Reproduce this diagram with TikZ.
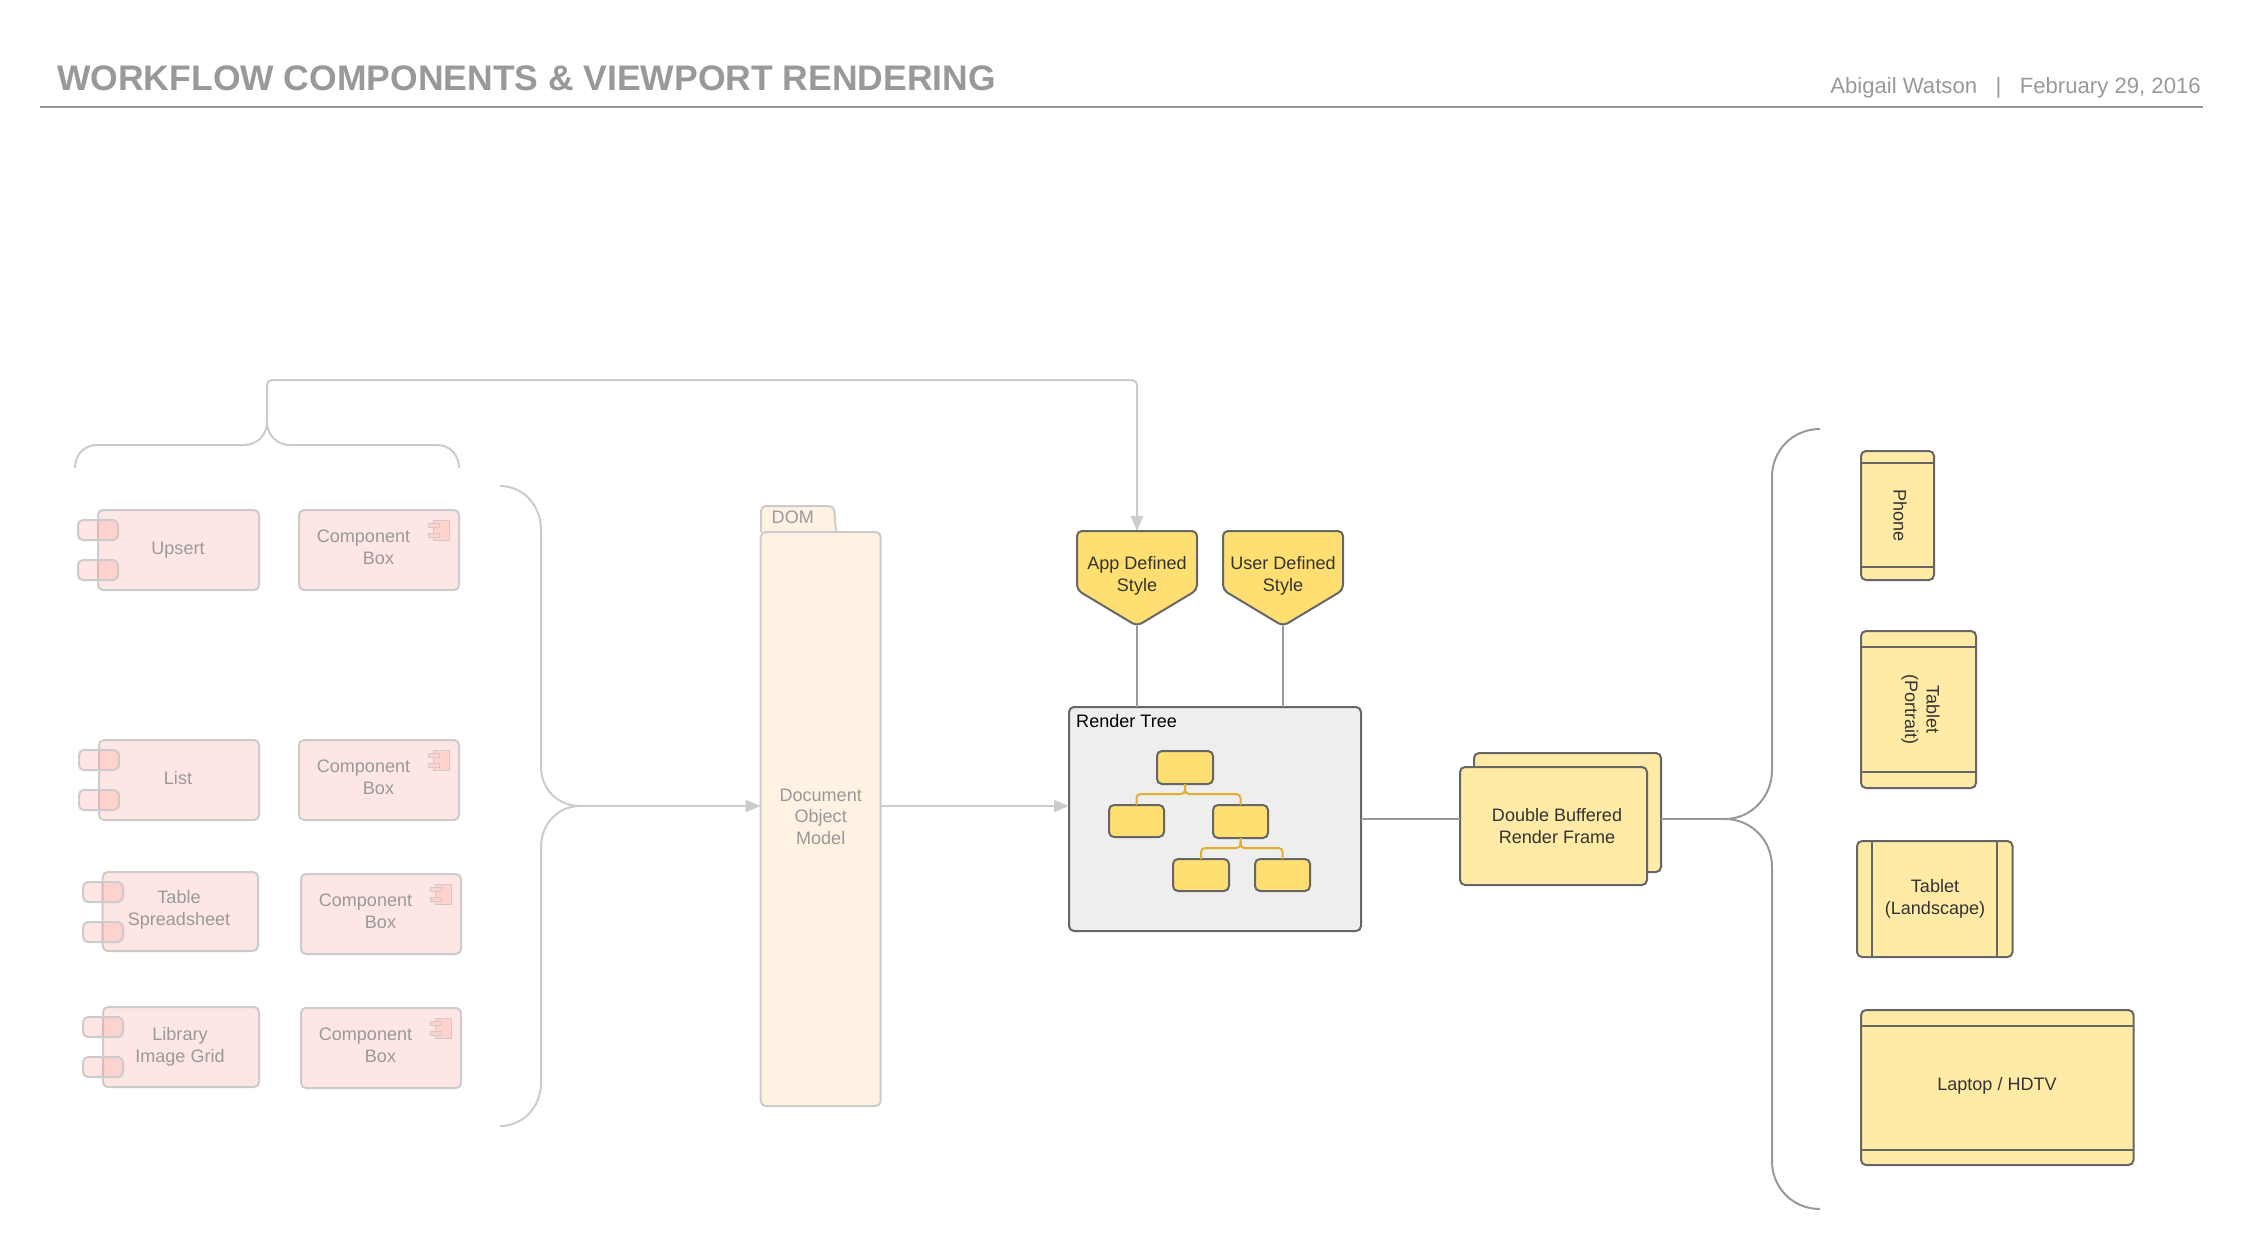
\documentclass[tikz,border=0pt]{standalone}
\usepackage{fontspec}
\setmainfont{Liberation Sans}
\usetikzlibrary{arrows.meta}
\definecolor{palefill}{HTML}{FEE6E4}
\definecolor{padfill}{HTML}{FF8278}
\definecolor{iconfill}{HTML}{FFD2CC}
\definecolor{paleline}{HTML}{CCCCCC}
\definecolor{paletext}{HTML}{999999}
\definecolor{domfill}{HTML}{FFF2E3}
\definecolor{yel}{HTML}{FFDF71}
\definecolor{lightyel}{HTML}{FFEBA6}
\definecolor{darkline}{HTML}{666666}
\definecolor{midline}{HTML}{999999}
\definecolor{treeline}{HTML}{E3AE2E}
\definecolor{treefill}{HTML}{EEEEEE}
\definecolor{inktext}{HTML}{333333}
\newcommand{\pxbox}[6][]{\node[#1,minimum width={((#5)-(#3))*0.03cm},minimum height={((#6)-(#4))*0.03cm}] (#2) at ({((#3)+(#5))/2},{((#4)+(#6))/2}) {};}
\tikzset{
  x=0.03cm,y=-0.03cm,
  basebox/.style={rectangle,inner sep=0pt,outer sep=0pt,rounded corners=0.15cm,line width=0.06cm},
  palebox/.style={basebox,draw=paleline,fill=palefill},
  padbox/.style={basebox,draw=paleline,fill=padfill,fill opacity=0.2,draw opacity=1},
  dombox/.style={basebox,draw=paleline,fill=domfill},
  yelbox/.style={basebox,draw=darkline,fill=yel},
  lightbox/.style={basebox,draw=darkline,fill=lightyel},
  treebox/.style={basebox,draw=darkline,fill=treefill},
  icobody/.style={rectangle,inner sep=0pt,outer sep=0pt,draw=paleline,fill=iconfill,line width=0.03cm},
  lbl/.style={inner sep=0pt,outer sep=0pt,align=center,yshift=-0.045cm,font=\fontsize{15.4}{18.5}\selectfont,
    execute at begin node={\rule{0pt}{0.8em}},execute at end node={\rule[-0.2em]{0pt}{0.2em}}},
  paletxt/.style={lbl,text=paletext},
  inktxt/.style={lbl,text=inktext},
  paleconn/.style={draw=paleline,line width=0.06cm},
  midconn/.style={draw=midline,line width=0.06cm},
  treeconn/.style={draw=treeline,line width=0.06cm,rounded corners=0.12cm},
  inner/.style={draw=darkline,line width=0.06cm},
  tipped/.style={-{Triangle[length=0.45cm,width=0.36cm]}},
}
\newcommand{\compbox}[3]{%
  \pxbox[palebox]{#1}{#2}{#3}{#2+160}{#3+80}
  \pxbox[icobody]{#1ib}{#2+134}{#3+10}{#2+150}{#3+30}
  \pxbox[icobody]{#1ia}{#2+129}{#3+13}{#2+140}{#3+17.5}
  \pxbox[icobody]{#1ic}{#2+129}{#3+23}{#2+140}{#3+27.5}
  \node[paletxt] (#1t) at (#2+64.5,#3+26) {Component};
  \node[paletxt] (#1u) at (#2+79.5,#3+48) {Box};
}
\newcommand{\padded}[6]{% name x1 y1 x2 y2 padx
  \pxbox[palebox]{#1}{#2}{#3}{#4}{#5}
  \pxbox[padbox]{#1pa}{#6}{#3+10}{#6+40}{#3+30}
  \pxbox[padbox]{#1pb}{#6}{#3+50}{#6+40}{#3+70}
}
\begin{document}
\begin{tikzpicture}
\fill[white] (0,0) rectangle (2243,1249);
\useasboundingbox (0,0) rectangle (2243,1249);

% header
\node[anchor=base west,inner sep=0pt,text=paletext,font=\bfseries\fontsize{30.3}{34}\selectfont] (title) at (57,90.7) {WORKFLOW COMPONENTS \& VIEWPORT RENDERING};
\node[anchor=base east,inner sep=0pt,text=paletext,font=\fontsize{18.9}{22}\selectfont] (author) at (2201,93) {Abigail Watson\ \ \ |\ \ \ February 29, 2016};
\coordinate (ruleL) at (40,106.7);
\coordinate (ruleR) at (2203,106.7);
\draw[midconn] (ruleL) -- (ruleR);

% left boxes
\padded{upsert}{98}{510}{259}{590}{78}
\node[paletxt] (upsertt) at (178,548) {Upsert};
\compbox{cbA}{299}{510}
\padded{list}{99}{740}{259}{820}{79}
\node[paletxt] (listt) at (178,778) {List};
\compbox{cbB}{299}{740}
\padded{table}{102.7}{872}{258}{951}{83}
\node[paletxt] (tablet) at (179,908.5) {Table\\Spreadsheet};
\compbox{cbC}{301}{874}
\padded{lib}{103}{1007}{259}{1087}{83}
\node[paletxt] (libt) at (180,1045) {Library\\Image Grid};
\compbox{cbD}{301}{1008}

% top brace
\coordinate (tbL) at (75,468);
\coordinate (tbR) at (459,468);
\coordinate (tbJ) at (267,422);
\coordinate (tbC) at (267,380);
\coordinate (tbD) at (1137,380);
\coordinate (apptop) at (1137,531);
\draw[paleconn] (tbL) .. controls (75,455) and (84,445) .. (97,445) -- (244,445) .. controls (257,445) and (267,435) .. (tbJ);
\draw[paleconn] (tbR) .. controls (459,455) and (450,445) .. (437,445) -- (290,445) .. controls (277,445) and (267,435) .. (tbJ);
\draw[paleconn,tipped,rounded corners=0.15cm] (tbJ) -- (tbC) -- (tbD) -- (apptop);

% left big brace
\coordinate (lbT) at (500,486);
\coordinate (lbB) at (500,1126);
\coordinate (lbJ) at (580,806);
\draw[paleconn] (lbT) .. controls (523,486) and (541,505) .. (541,530) -- (541,767) .. controls (541,789) and (558,806) .. (lbJ);
\draw[paleconn] (lbB) .. controls (523,1126) and (541,1107) .. (541,1083) -- (541,847) .. controls (541,824) and (558,806) .. (lbJ);

% DOM
\coordinate (domTabA) at (761,532);
\coordinate (domTabB) at (836,532);
\filldraw[paleconn,fill=domfill,rounded corners=0.15cm] (domTabA) -- (761,506) -- (834,506) -- (domTabB);
\pxbox[dombox]{dom}{760.7}{532}{880.7}{1106}
\node[anchor=base west,inner sep=0pt,text=paletext,font=\fontsize{15.4}{18.5}\selectfont] (domt) at (771.5,523) {DOM};
\node[paletxt] (domb) at (820.7,817) {Document\\Object\\Model};
\draw[paleconn,tipped] (lbJ) -- (dom.west |- lbJ);

% render tree
\pxbox[treebox]{rt}{1069}{707}{1361}{931}
\node[anchor=base west,inner sep=0pt,text=black,font=\fontsize{15.4}{18.5}\selectfont] (rtt) at (1076,727) {Render Tree};
\draw[paleconn,tipped] (dom.east |- lbJ) -- (rt.west |- lbJ);
\pxbox[yelbox]{na}{1157}{751}{1213}{784}
\pxbox[yelbox]{nb}{1109}{805}{1164}{837}
\pxbox[yelbox]{nc}{1213}{805}{1268}{838}
\pxbox[yelbox]{nd}{1173}{859}{1229}{891}
\pxbox[yelbox]{ne}{1255}{859}{1310}{891}
\draw[treeconn] (na.south) -- ++(0,10) -| (nb.north);
\draw[treeconn] (na.south) -- ++(0,10) -| (nc.north);
\draw[treeconn] (nc.south) -- ++(0,10) -| (nd.north);
\draw[treeconn] (nc.south) -- ++(0,10) -| (ne.north);

% style shields
\coordinate (apptip) at (1137,626);
\coordinate (usertip) at (1283,626);
\filldraw[draw=darkline,fill=yel,line width=0.06cm,rounded corners=0.15cm] (1077,531) -- (1197,531) -- (1197,590) -- (apptip) -- (1077,590) -- cycle;
\filldraw[draw=darkline,fill=yel,line width=0.06cm,rounded corners=0.15cm] (1223,531) -- (1343,531) -- (1343,590) -- (usertip) -- (1223,590) -- cycle;
\node[inktxt] (appt) at (1137,574) {App Defined\\Style};
\node[inktxt] (usert) at (1283,574) {User Defined\\Style};
\draw[midconn] (apptip) -- (rt.north -| apptip);
\draw[midconn] (usertip) -- (rt.north -| usertip);

% render frame
\pxbox[lightbox]{fb}{1474}{753}{1661}{872}
\pxbox[lightbox]{ff}{1460}{767}{1647}{885}
\node[inktxt] (fft) at (1557,826) {Double Buffered\\Render Frame};
\coordinate (rbJ) at (1735,819);
\draw[midconn] (rt.east) -- (ff.west |- rt.east);
\draw[midconn] (fb.east |- rt.east) -- (rbJ);

% right brace
\coordinate (rbT) at (1820,429);
\coordinate (rbB) at (1820,1209);
\coordinate (rbM) at (1725,819);
\draw[midconn] (rbT) .. controls (1793,429) and (1772,450) .. (1772,477) -- (1772,770) .. controls (1772,797) and (1751,819) .. (rbM);
\draw[midconn] (rbB) .. controls (1793,1209) and (1772,1188) .. (1772,1161) -- (1772,867) .. controls (1772,840) and (1751,819) .. (rbM);

% devices
\pxbox[lightbox]{ph}{1861}{451}{1934}{580}
\draw[inner] (ph.west |- 0,463) -- (ph.east |- 0,463);
\draw[inner] (ph.west |- 0,567) -- (ph.east |- 0,567);
\node[inktxt,rotate=-90] (pht) at (1899,514) {Phone};

\pxbox[lightbox]{tp}{1861}{631}{1976}{788}
\draw[inner] (tp.west |- 0,647) -- (tp.east |- 0,647);
\draw[inner] (tp.west |- 0,772) -- (tp.east |- 0,772);
\node[inktxt,rotate=-90] (tpt) at (1920.5,708) {Tablet\\(Portrait)};

\pxbox[lightbox]{tl}{1857}{841}{2012.5}{957}
\draw[inner] (tl.north -| 1872,0) -- (tl.south -| 1872,0);
\draw[inner] (tl.north -| 1997,0) -- (tl.south -| 1997,0);
\node[inktxt] (tlt) at (1935,897) {Tablet\\(Landscape)};

\pxbox[lightbox]{lp}{1861}{1010}{2133.5}{1165}
\draw[inner] (lp.west |- 0,1026) -- (lp.east |- 0,1026);
\draw[inner] (lp.west |- 0,1150) -- (lp.east |- 0,1150);
\node[inktxt] (lpt) at (1997,1084) {Laptop / HDTV};
\end{tikzpicture}
\end{document}
